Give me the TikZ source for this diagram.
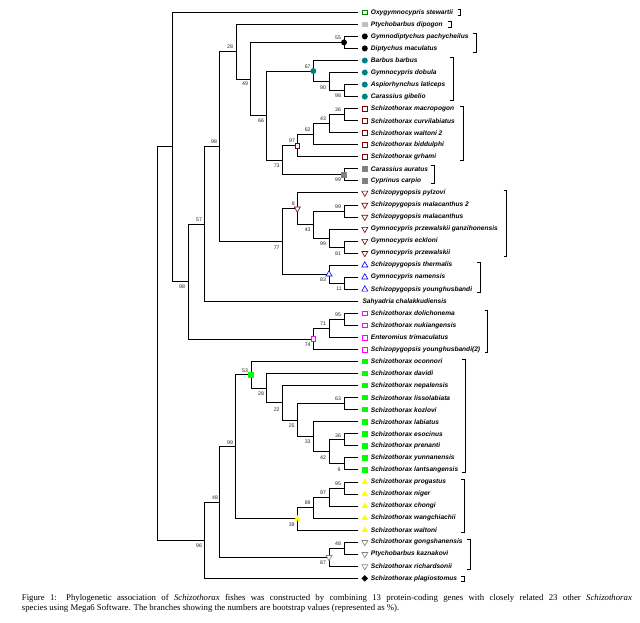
\documentclass[tikz,border=0pt]{standalone}
\usepackage{fontspec}
\setmainfont{Liberation Serif}
\newfontfamily\leaffont{Liberation Sans}
\usetikzlibrary{shapes.geometric}
\definecolor{dkred}{HTML}{800000}
\definecolor{teal2}{HTML}{008080}
\definecolor{dkgreen}{HTML}{008000}
\definecolor{lime2}{HTML}{00FF00}
\definecolor{yel2}{HTML}{FFFF00}
\definecolor{grey2}{HTML}{808080}
\definecolor{ltgrey}{HTML}{C0C0C0}
\definecolor{mag2}{HTML}{FF00FF}
\definecolor{blue2}{HTML}{0000FF}
\tikzset{
  br/.style={line width=0.9pt, black},
  brk/.style={line width=0.9pt, black},
  leaf/.style={anchor=west, inner sep=0pt, font=\leaffont\bfseries\itshape\fontsize{6.6}{7}\selectfont},
  bs/.style={inner sep=0pt, font=\leaffont\fontsize{5.2}{5.2}\selectfont, text=black!85},
  mk/.style={inner sep=0pt, outer sep=0pt, line width=0.6pt},
  osq/.style={mk, rectangle, draw=#1, fill=white, minimum size=4.6pt},
  fsq/.style={mk, rectangle, fill=#1, minimum size=5.4pt},
  fci/.style={mk, circle, fill=#1, minimum size=6pt},
  otd/.style={mk, regular polygon, regular polygon sides=3, shape border rotate=180, draw=#1, fill=white, minimum size=7pt},
  otu/.style={mk, regular polygon, regular polygon sides=3, draw=#1, fill=white, minimum size=7pt},
  ftu/.style={mk, regular polygon, regular polygon sides=3, fill=#1, minimum size=7.5pt},
  fdi/.style={mk, diamond, fill=#1, minimum size=6.5pt},
  captext/.style={anchor=base west, inner sep=0pt, font=\fontsize{8.75}{10}\selectfont}
}
\begin{document}
\begin{tikzpicture}[x=1pt, y=-1pt]
\useasboundingbox (0,0) rectangle (640,622);
% leaf ends
\foreach \i/\y in {1/12.3,2/24.3,3/36.4,4/48.4,5/60.5,6/72.5,7/84.6,8/96.6,9/108.6,10/120.7,11/132.7,12/144.8,13/156.8,14/168.9,15/180.9,16/192.9,17/205.0,18/217.0,19/229.1,20/241.1,21/253.2,22/265.2,23/277.2,24/289.3,25/301.3,26/313.4,27/325.4,28/337.5,29/349.5,30/361.5,31/373.6,32/385.6,33/397.7,34/409.7,35/421.8,36/433.8,37/445.8,38/457.9,39/469.9,40/482.0,41/494.0,42/506.1,43/518.1,44/530.1,45/542.2,46/554.2,47/566.3,48/578.3}{
  \coordinate (e\i) at (358,\y);
  \coordinate (k\i) at (364.8,\y);
}
% internal nodes
\coordinate (root) at (157.3,343.5);
\coordinate (ntop) at (172.7,146.9);
\coordinate (n28) at (236,51.65);
\coordinate (n49) at (250.7,79);
\coordinate (n55) at (344,42.4);
\coordinate (n66) at (266,115.6);
\coordinate (n67) at (313.3,71);
\coordinate (n90) at (329,81.55);
\coordinate (n98g) at (344,90.6);
\coordinate (n73) at (282.7,160.2);
\coordinate (n97) at (297.3,145.5);
\coordinate (n62) at (313.3,134.2);
\coordinate (n43) at (329,123.7);
\coordinate (n36) at (344,114.65);
\coordinate (n99c) at (344,174.9);
\coordinate (n98b) at (219.3,146.6);
\coordinate (n77) at (282.7,241.5);
\coordinate (n8) at (297.3,208.7);
\coordinate (n43b) at (313.3,224.6);
\coordinate (n99a) at (344,211);
\coordinate (n99b) at (329,238.1);
\coordinate (n81) at (344,247.15);
\coordinate (n83) at (329,274.2);
\coordinate (n11) at (344,283.25);
\coordinate (n57) at (204,224);
\coordinate (n98c) at (188.3,281.5);
\coordinate (n74) at (313.3,339);
\coordinate (n71) at (329,328.4);
\coordinate (n95) at (344,319.4);
\coordinate (n96) at (204,540.2);
\coordinate (n48) at (219.3,502);
\coordinate (n99d) at (235.7,446.9);
\coordinate (n53) at (251,374.9);
\coordinate (n28b) at (266.3,388.3);
\coordinate (n22) at (282.7,402.9);
\coordinate (n25) at (297.3,420.25);
\coordinate (n63) at (344,403.7);
\coordinate (n33) at (313.3,436.8);
\coordinate (n42) at (329,451.85);
\coordinate (n36b) at (344,439.8);
\coordinate (n9) at (344,463.9);
\coordinate (n39) at (297.3,518.8);
\coordinate (n89) at (313.3,507.6);
\coordinate (n97b) at (329,497);
\coordinate (n95b) at (344,488);
\coordinate (n87) at (329,557.2);
\coordinate (n48b) at (344,548.2);
% branches
\foreach \p/\c in {root/ntop,root/n96,ntop/e1,ntop/n98c,n98c/n57,n98c/n74,n57/n98b,n57/e25,
  n98b/n28,n98b/n77,n28/e2,n28/n49,n49/n55,n49/n66,n55/e3,n55/e4,n66/n67,n66/n73,
  n67/e5,n67/n90,n90/e6,n90/n98g,n98g/e7,n98g/e8,n73/n97,n73/n99c,n97/n62,n97/e13,
  n62/n43,n62/e12,n43/n36,n43/e11,n36/e9,n36/e10,n99c/e14,n99c/e15,n77/n8,n77/n83,
  n8/e16,n8/n43b,n43b/n99a,n43b/n99b,n99a/e17,n99a/e18,n99b/e19,n99b/n81,n81/e20,n81/e21,
  n83/e22,n83/n11,n11/e23,n11/e24,n74/n71,n74/e29,n71/n95,n71/e28,n95/e26,n95/e27,
  n96/n48,n96/e48,n48/n99d,n48/n87,n99d/n53,n99d/n39,n53/e30,n53/n28b,n28b/e31,n28b/n22,
  n22/e32,n22/n25,n25/n63,n25/n33,n63/e33,n63/e34,n33/e35,n33/n42,n42/n36b,n42/n9,
  n36b/e36,n36b/e37,n9/e38,n9/e39,n39/n89,n39/e44,n89/n97b,n89/e43,n97b/n95b,n97b/e42,
  n95b/e40,n95b/e41,n87/n48b,n87/e47,n48b/e45,n48b/e46}{
  \draw[br] (\p) |- (\c);
}
% internal node markers
\node[fci=black] (mn55) at (n55) {};
\node[fci=teal2] (mn67) at (n67) {};
\node[osq=dkred] (mn97) at (n97) {};
\node[fsq=grey2] (mn99c) at (n99c) {};
\node[otd=dkred] (mn8) at (n8) {};
\node[otu=blue2] (mn83) at (n83) {};
\node[osq=mag2] (mn74) at (n74) {};
\node[fsq=lime2] (mn53) at (n53) {};
\node[ftu=yel2] (mn39) at (n39) {};
\node[otd=grey2] (mn87) at (n87) {};
% leaf markers
\node[osq=dkgreen] (m1) at (k1) {};
\node[fsq=ltgrey] (m2) at (k2) {};
\foreach \i in {3,4}{\node[fci=black] (m\i) at (k\i) {};}
\foreach \i in {5,...,8}{\node[fci=teal2] (m\i) at (k\i) {};}
\foreach \i in {9,...,13}{\node[osq=dkred] (m\i) at (k\i) {};}
\foreach \i in {14,15}{\node[fsq=grey2] (m\i) at (k\i) {};}
\foreach \i in {16,...,21}{\node[otd=dkred] (m\i) at (k\i) {};}
\foreach \i in {22,23,24}{\node[otu=blue2] (m\i) at (k\i) {};}
\foreach \i in {26,...,29}{\node[osq=mag2] (m\i) at (k\i) {};}
\foreach \i in {30,...,39}{\node[fsq=lime2] (m\i) at (k\i) {};}
\foreach \i in {40,...,44}{\node[ftu=yel2] (m\i) at (k\i) {};}
\foreach \i in {45,46,47}{\node[otd=grey2] (m\i) at (k\i) {};}
\node[fdi=black] (m48) at (k48) {};
% leaf labels
\foreach \i/\t in {1/Oxygymnocypris stewartii,2/Ptychobarbus dipogon,3/Gymnodiptychus pachycheilus,
  4/Diptychus maculatus,5/Barbus barbus,6/Gymnocypris dobula,7/Aspiorhynchus laticeps,
  8/Carassius gibelio,9/Schizothorax macropogon,10/Schizothorax curvilabiatus,
  11/Schizothorax waltoni 2,12/Schizothorax biddulphi,13/Schizothorax grhami,
  14/Carassius auratus,15/Cyprinus carpio,16/Schizopygopsis pylzovi,
  17/Schizopygopsis malacanthus 2,18/Schizopygopsis malacanthus,
  19/Gymnocypris przewalskii ganzihonensis,20/Gymnocypris eckloni,
  21/Gymnocypris przewalskii,22/Schizopygopsis thermalis,23/Gymnocypris namensis,
  24/Schizopygopsis younghusbandi,26/Schizothorax dolichonema,
  27/Schizothorax nukiangensis,28/Enteromius trimaculatus,
  29/Schizopygopsis younghusbandi(2),30/Schizothorax oconnori,31/Schizothorax davidi,
  32/Schizothorax nepalensis,33/Schizothorax lissolabiata,34/Schizothorax kozlovi,
  35/Schizothorax labiatus,36/Schizothorax esocinus,37/Schizothorax prenanti,
  38/Schizothorax yunnanensis,39/Schizothorax lantsangensis,40/Schizothorax progastus,
  41/Schizothorax niger,42/Schizothorax chongi,43/Schizothorax wangchiachii,
  44/Schizothorax waltoni,45/Schizothorax gongshanensis,46/Ptychobarbus kaznakovi,
  47/Schizothorax richardsonii,48/Schizothorax plagiostomus}{
  \node[leaf] (t\i) at ([xshift=5.9pt]k\i) {\t};
}
\node[leaf] (t25) at ([xshift=-2.5pt]k25) {Sahyadria chalakkudiensis};
% bootstrap values
\foreach \n/\x/\y/\v in {b1/338/37.7/55, b2/307.7/66.7/67, b3/323/87.3/90, b4/338/96/98,
  b5/230/46.7/28, b6/245/84/49, b7/214/141.7/98, b8/261/121/66, b9/338/110/36,
  b10/323/119/43, b11/307.7/130/62, b12/292/140.7/97, b13/276.7/166/73, b14/338/180/99,
  b15/199/220/57, b16/182/287/98, b17/293.3/204/8, b18/307.7/230/43, b19/338/206.7/99,
  b20/323/244/99, b21/338/253.3/81, b22/276.7/247.3/77, b23/323/280/83, b24/339/289/11,
  b25/338/315/95, b26/323/324/71, b27/307.7/345/74, b28/245/371/53, b29/261/394/28,
  b30/276.7/409.3/22, b31/338/399/63, b32/291.7/426/25, b33/307.7/441.7/33,
  b34/338/436/36, b35/323/457.3/42, b36/339/469.3/9, b37/230/442.7/99, b38/338/484/95,
  b39/323/492.7/97, b40/307.7/502.7/89, b41/291.7/525/39, b42/215/497.7/48,
  b43/199/546/96, b44/338/544/48, b45/323/562.7/87}{
  \node[bs] (\n) at (\x,\y) {\v};
}
% group brackets
\foreach \x/\a/\b in {460.7/9.5/15.5, 451/21.5/27.5, 476/33.3/52.3, 453.3/57.7/100,
  463.3/106/160, 434.3/165.7/183.3, 506.7/190.7/256, 480/262.3/292.3,
  487.7/310.7/352.7, 465/359/472.7, 464.3/479.3/532.7, 470/539/569.3, 464.3/576/581.7}{
  \draw[brk] (\x-3,\a) -- (\x,\a) -- (\x,\b) -- (\x-3,\b);
}
% caption
\node[captext] (cap1) at (21.7,600.3) {\makebox[610pt][s]{Figure 1: Phylogenetic association of \textit{Schizothorax} fishes was constructed by combining 13 protein-coding genes with closely related 23 other \textit{Schizothorax}}};
\node[captext] (cap2) at (21.7,610.6) {species using Mega6 Software. The branches showing the numbers are bootstrap values (represented as \%).};
\end{tikzpicture}
\end{document}
